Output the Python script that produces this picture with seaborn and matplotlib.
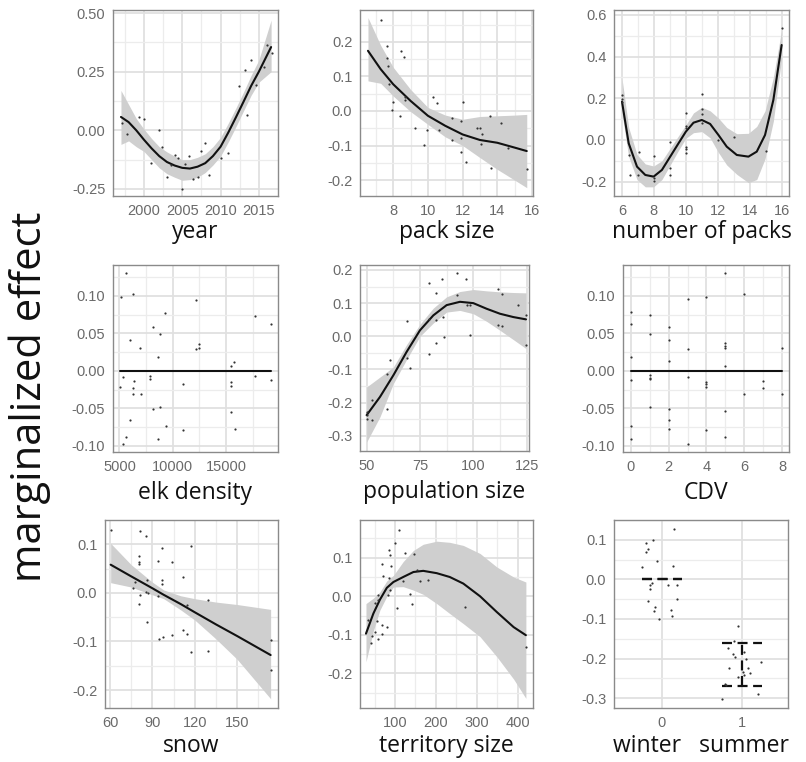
import numpy as np
import pandas as pd
import matplotlib
matplotlib.use('Agg')
import matplotlib.pyplot as plt
import seaborn as sns

# year
year_px = [1997.1, 1997.8, 1999.3, 2000.0, 2000.9, 2002.0, 2002.3, 2003.0, 2003.5, 2004.0, 2004.5,
           2005.0, 2005.3, 2005.9, 2006.4, 2007.0, 2007.4, 2008.0, 2008.5, 2010.1, 2011.0, 2012.4,
           2013.2, 2013.5, 2014.0, 2014.6, 2015.7, 2016.1, 2016.7]
year_py = [0.03, -0.017, 0.057, 0.05, -0.138, 0.003, -0.071, -0.2, -0.149, -0.107, -0.118,
           -0.249, -0.142, -0.111, -0.206, -0.2, -0.088, -0.054, -0.192, -0.116, -0.097, 0.188,
           0.258, 0.067, 0.298, 0.192, 0.27, 0.362, 0.33]
year_fx = [1997.0, 1998, 1999, 2000, 2001, 2002, 2003, 2004, 2005, 2006, 2007, 2008, 2009,
           2010, 2011, 2012, 2013, 2014, 2015, 2016.6]
year_fit = [0.057, 0.035, 0.0, -0.04, -0.077, -0.11, -0.135, -0.15, -0.16, -0.163, -0.155,
            -0.14, -0.11, -0.07, -0.01, 0.055, 0.122, 0.19, 0.25, 0.355]
year_lo = [-0.06, -0.045, -0.07, -0.09, -0.125, -0.16, -0.185, -0.2, -0.213, -0.21, -0.2,
           -0.18, -0.148, -0.11, -0.05, 0.015, 0.083, 0.15, 0.205, 0.25]
year_hi = [0.17, 0.11, 0.05, 0.005, -0.035, -0.07, -0.092, -0.11, -0.125, -0.125, -0.115,
           -0.1, -0.07, -0.03, 0.03, 0.095, 0.163, 0.235, 0.3, 0.47]

# pack size
pack_px = [7.27, 7.65, 7.65, 7.69, 7.75, 8.0, 7.9, 8.38, 8.42, 8.6, 8.65, 8.65, 9.23, 9.8, 9.96,
           10.3, 10.5, 10.63, 11.37, 11.4, 11.88, 11.92, 12.02, 12.17, 11.9, 12.85, 13.0, 13.04,
           13.13, 13.58, 13.65, 14.2, 14.63, 15.7]
pack_py = [0.263, 0.188, 0.152, 0.13, 0.077, 0.026, 0.002, -0.014, 0.174, 0.155, 0.039, 0.032,
           -0.048, -0.099, -0.055, 0.039, 0.022, -0.055, -0.019, -0.084, -0.119, -0.029, 0.027,
           -0.147, -0.077, -0.048, -0.048, -0.095, -0.068, -0.014, -0.166, -0.036, -0.106, -0.167]
pack_fx = [6.54, 7.27, 8, 9, 10, 11, 12, 13, 14, 15, 15.7]
pack_fit = [0.174, 0.121, 0.077, 0.029, -0.014, -0.043, -0.068, -0.084, -0.092, -0.106, -0.116]
pack_lo = [0.087, 0.08, 0.043, -0.002, -0.039, -0.075, -0.1, -0.135, -0.169, -0.2, -0.222]
pack_hi = [0.27, 0.19, 0.126, 0.062, 0.01, -0.012, -0.024, -0.016, -0.014, -0.012, -0.01]

# number of packs
npk_px = [6, 6, 6, 6.42, 6.48, 7.04, 7, 8, 8, 8, 9, 9, 9, 10, 10, 10, 10, 10, 10,
          11, 11, 11, 11, 12, 13, 15, 16]
npk_py = [0.216, 0.195, 0.18, -0.072, -0.168, -0.056, -0.168, -0.075, -0.184, -0.195, -0.008,
          -0.168, -0.136, 0.128, 0.067, 0.059, -0.032, -0.045, -0.064, 0.219, 0.147, 0.125,
          0.08, 0.0, 0.016, -0.051, 0.536]
npk_fx = [6, 6.42, 6.94, 7.46, 7.98, 8.5, 9.02, 9.54, 10, 10.48, 11, 11.52, 12.04, 12.56,
          13.19, 13.92, 14.44, 14.96, 15.48, 16]
npk_fit = [0.184, -0.016, -0.128, -0.168, -0.176, -0.144, -0.08, -0.016, 0.04, 0.083, 0.096,
           0.077, 0.024, -0.032, -0.072, -0.08, -0.056, 0.024, 0.192, 0.456]
npk_lo = [0.128, -0.08, -0.19, -0.225, -0.225, -0.19, -0.12, -0.05, 0.008, 0.035, 0.04, 0.01,
          -0.06, -0.12, -0.165, -0.205, -0.19, -0.09, 0.09, 0.392]
npk_hi = [0.296, 0.06, -0.07, -0.115, -0.125, -0.1, -0.04, 0.02, 0.072, 0.13, 0.157, 0.14,
          0.105, 0.06, 0.03, 0.032, 0.065, 0.14, 0.3, 0.528]

# elk density (flat effect)
elk_px = [5125, 5625, 6312, 6000, 6937, 5375, 5060, 6375, 6312, 6312, 6990, 6000, 5625, 5375,
          7875, 7875, 8187, 8812, 8656, 8187, 8812, 9281, 9343, 8656, 10937, 10937, 12156,
          12187, 12500, 12500, 15468, 15781, 15468, 15468, 15468, 15843, 17718, 17718, 19218, 19218]
elk_py = [0.099, 0.13, 0.103, 0.041, 0.031, -0.008, -0.021, -0.014, -0.023, -0.031, -0.031,
          -0.066, -0.088, -0.098, -0.007, -0.011, 0.059, 0.049, 0.019, -0.051, -0.048, 0.077,
          -0.074, -0.091, -0.017, -0.079, 0.095, 0.029, 0.036, 0.031, 0.007, 0.012, -0.015,
          -0.02, -0.055, -0.078, 0.073, -0.007, 0.062, -0.012]
elk_fx = [5060, 19218]
elk_fit = [0.0, 0.0]

# population size
pop_px = [50, 50, 50, 52.3, 52.3, 59.4, 59.4, 60.9, 68.75, 69, 70.3, 79.4, 79.4, 79.4, 82.5,
          82.5, 82.5, 85.2, 85.9, 86.25, 92.5, 92.5, 96.5, 96.9, 98.4, 98.4, 111.7, 113.3,
          111.7, 113.3, 121, 124.7, 124.7]
pop_py = [-0.228, -0.238, -0.25, -0.191, -0.253, -0.113, -0.218, -0.072, -0.067, 0.046, -0.095,
          0.162, 0.053, -0.054, 0.131, 0.05, -0.02, 0.172, 0.058, -0.002, 0.191, 0.124, 0.172,
          0.094, 0.094, 0.003, 0.142, 0.129, 0.033, 0.03, 0.094, 0.065, -0.027]
pop_fx = [50, 56.25, 62.5, 68.75, 75, 81.25, 87.5, 93.75, 100, 106.25, 112.5, 118.75, 124.7]
pop_fit = [-0.238, -0.183, -0.118, -0.047, 0.018, 0.063, 0.094, 0.104, 0.1, 0.083, 0.068, 0.058, 0.051]
pop_lo = [-0.319, -0.243, -0.143, -0.07, 0.0, 0.04, 0.073, 0.078, 0.068, 0.045, 0.018, -0.01, -0.037]
pop_hi = [-0.153, -0.123, -0.093, -0.025, 0.036, 0.085, 0.119, 0.135, 0.141, 0.137, 0.134, 0.132, 0.131]

# CDV (flat effect)
cdv_px = [0, 0, 0, 0, 0, 0, 1, 1, 1, 1, 1, 1, 2, 2, 2, 2, 2, 2, 3, 3, 3, 3, 4, 4, 4, 4, 4,
          5, 5, 5, 5, 5, 5, 5, 6, 6, 7, 7, 8, 8]
cdv_py = [0.078, 0.062, 0.019, -0.012, -0.074, -0.091, 0.074, 0.049, -0.006, -0.009, -0.011,
          -0.048, 0.059, 0.041, 0.013, -0.051, -0.066, -0.078, 0.096, 0.029, -0.008, -0.097,
          0.099, -0.015, -0.018, -0.021, -0.079, 0.13, 0.037, 0.033, 0.031, 0.006, -0.054,
          -0.088, 0.103, -0.031, -0.013, -0.023, 0.031, -0.031]
cdv_fx = [0, 8]
cdv_fit = [0.0, 0.0]

# snow (linear)
snow_px = [60.7, 81.2, 85.4, 97, 117, 80.7, 80.7, 80.7, 93.7, 104, 97, 97, 111.8, 85.9, 77.7,
           76.5, 85.4, 87.1, 81.2, 94.2, 80.7, 129, 114.7, 85.9, 94.9, 97.2, 104, 111.8, 114.7,
           117, 129, 173.6, 173.6]
snow_py = [0.13, 0.128, 0.117, 0.093, 0.096, 0.075, 0.064, 0.059, 0.066, 0.064, 0.027, 0.019,
           0.032, 0.026, 0.023, 0.01, 0.002, -0.001, -0.005, -0.007, -0.022, -0.014, -0.025,
           -0.06, -0.094, -0.091, -0.087, -0.077, -0.084, -0.121, -0.119, -0.096, -0.159]
snow_fx = [60.5, 75, 90, 98, 110, 120, 135, 150, 173.6]
snow_fit = [0.058, 0.034, 0.0095, -0.004, -0.023, -0.04, -0.065, -0.089, -0.128]
snow_lo = [0.021, 0.012, -0.004, -0.012, -0.035, -0.056, -0.095, -0.137, -0.218]
snow_hi = [0.102, 0.058, 0.022, 0.006, -0.006, -0.012, -0.019, -0.024, -0.034]

# territory size
terr_px = [110.6, 100, 124.5, 86, 87.8, 67.4, 90.2, 71.5, 85.3, 147, 152.9, 161, 180, 120, 87.8,
           83.7, 57.6, 136.7, 140.8, 104, 51, 57.6, 33, 55, 67, 81, 69, 43, 51, 57.6, 40.5, 271, 420]
terr_py = [0.173, 0.138, 0.113, 0.121, 0.106, 0.083, 0.079, 0.052, 0.048, 0.111, 0.067, 0.04,
           0.043, 0.04, 0.016, 0.003, 0.003, 0.007, -0.019, -0.03, -0.017, -0.009, -0.062,
           -0.064, -0.075, -0.08, -0.097, -0.104, -0.092, -0.112, -0.121, -0.028, -0.131]
terr_fx = [29, 47, 63, 80, 96, 120, 145, 169, 202, 234, 267, 308, 349, 390, 420]
terr_fit = [-0.097, -0.045, -0.009, 0.022, 0.037, 0.05, 0.063, 0.066, 0.06, 0.05, 0.033, 0.0,
            -0.041, -0.08, -0.101]
terr_lo = [-0.17, -0.09, -0.036, 0.0, 0.024, 0.025, 0.016, 0.005, -0.019, -0.045, -0.071,
           -0.105, -0.157, -0.215, -0.265]
terr_hi = [-0.019, -0.005, 0.011, 0.04, 0.054, 0.09, 0.119, 0.135, 0.143, 0.14, 0.132, 0.111,
           0.076, 0.05, 0.037]

# season (0 = winter, 1 = summer), jittered points
season_px = [0.154, -0.104, -0.19, -0.167, -0.19, -0.06, -0.24, 0.146, -0.146, -0.125, 0.083,
             0.19, -0.146, 0.19, -0.167, -0.083, -0.096, 0.112, 0.125, -0.03,
             0.958, 0.908, 0.833, 0.888, 0.917, 1.03, 1.054, 1.237, 0.846, 1.075, 1.02, 1.104,
             0.958, 1.03, 0.79, 0.81, 1.208, 0.75]
season_py = [0.126, 0.099, 0.093, 0.076, 0.07, 0.047, 0.03, 0.034, -0.014, -0.01, -0.014,
             -0.014, -0.024, -0.05, -0.054, -0.069, -0.079, -0.077, -0.093, -0.099,
             -0.117, -0.156, -0.174, -0.189, -0.197, -0.183, -0.2, -0.208, -0.225, -0.225,
             -0.233, -0.236, -0.246, -0.242, -0.264, -0.267, -0.29, -0.303]
season_x = [0, 1]
season_lo = [0.0, -0.27]
season_hi = [0.0, -0.16]

sns.set_style('white')
plt.rcParams['axes.unicode_minus'] = False
plt.rcParams['font.family'] = ['Liberation Sans', 'DejaVu Sans']

W, H = 806, 762
fig = plt.figure(figsize=(W / 100, H / 100), dpi=100)


def make_ax(l, t, r, b):
    return fig.add_axes([l / W, 1 - b / H, (r - l) / W, (b - t) / H])


def style(ax, xlim, ylim, xt, yt, xfmt, yfmt, label, minor_x=True, lpad=2.5):
    ax.set_xlim(*xlim)
    ax.set_ylim(*ylim)
    ax.set_xticks(xt)
    ax.set_yticks(yt)
    ax.set_xticklabels([xfmt.format(v) for v in xt])
    ax.set_yticklabels([yfmt.format(v) for v in yt])
    if minor_x:
        dx = xt[1] - xt[0]
        mx = [v for v in np.arange(xt[0] - dx / 2, xt[-1] + dx, dx) if xlim[0] < v < xlim[1]]
        ax.set_xticks(mx, minor=True)
    dy = yt[1] - yt[0]
    my = [v for v in np.arange(yt[0] - dy / 2, yt[-1] + dy, dy) if ylim[0] < v < ylim[1]]
    ax.set_yticks(my, minor=True)
    ax.grid(which='major', color='#e0e0e0', lw=1.3)
    ax.grid(which='minor', color='#ececec', lw=0.9)
    ax.set_axisbelow(True)
    ax.tick_params(which='minor', length=0)
    ax.tick_params(which='major', length=3, width=0.9, color='#555555',
                   labelcolor='#6a6a6a', labelsize=10.5, pad=2.5)
    for s in ax.spines.values():
        s.set_color('#8a8a8a')
        s.set_linewidth(1.0)
    ax.set_xlabel(label, fontsize=16.5, family='Open Sans', color='#111111', labelpad=lpad)
    ax.set_ylabel('')


def smooth(ax, px, py, fx, fit, lo=None, hi=None):
    if lo is not None:
        ax.fill_between(fx, lo, hi, color='#cfcfcf', lw=0, zorder=2)
    sns.lineplot(x=fx, y=fit, ax=ax, color='#111111', lw=1.5, zorder=3)
    sns.scatterplot(x=px, y=py, ax=ax, color='#333333', s=2.5, linewidth=0, zorder=4)


ax = make_ax(113, 10, 278, 196)
smooth(ax, year_px, year_py, year_fx, year_fit, year_lo, year_hi)
style(ax, (1995.96, 2017.5), (-0.28, 0.513), [2000, 2005, 2010, 2015], [-0.25, 0.0, 0.25, 0.5],
      '{:d}', '{:.2f}', 'year', lpad=1.5)

ax = make_ax(360, 10, 533, 196)
smooth(ax, pack_px, pack_py, pack_fx, pack_fit, pack_lo, pack_hi)
style(ax, (6.08, 16.06), (-0.246, 0.292), [8, 10, 12, 14, 16], [-0.2, -0.1, 0.0, 0.1, 0.2],
      '{:d}', '{:.1f}', 'pack size', lpad=1.5)

ax = make_ax(614, 10, 789, 196)
smooth(ax, npk_px, npk_py, npk_fx, npk_fit, npk_lo, npk_hi)
style(ax, (5.5, 16.46), (-0.269, 0.624), [6, 8, 10, 12, 14, 16], [-0.2, 0.0, 0.2, 0.4, 0.6],
      '{:d}', '{:.1f}', 'number of packs', lpad=1.5)

ax = make_ax(113, 265, 278, 452)
smooth(ax, elk_px, elk_py, elk_fx, elk_fit)
style(ax, (4400, 19880), (-0.108, 0.141), [5000, 10000, 15000], [-0.1, -0.05, 0.0, 0.05, 0.1],
      '{:d}', '{:.2f}', 'elk density', lpad=5)

ax = make_ax(360, 265, 529, 451)
smooth(ax, pop_px, pop_py, pop_fx, pop_fit, pop_lo, pop_hi)
style(ax, (46.9, 126.1), (-0.346, 0.215), [50, 75, 100, 125], [-0.3, -0.2, -0.1, 0.0, 0.1, 0.2],
      '{:d}', '{:.1f}', 'population size', lpad=5)

ax = make_ax(623, 265, 789, 452)
smooth(ax, cdv_px, cdv_py, cdv_fx, cdv_fit)
style(ax, (-0.4, 8.35), (-0.108, 0.141), [0, 2, 4, 6, 8], [-0.1, -0.05, 0.0, 0.05, 0.1],
      '{:d}', '{:.2f}', 'CDV', lpad=5)

ax = make_ax(105, 520, 278, 708)
smooth(ax, snow_px, snow_py, snow_fx, snow_fit, snow_lo, snow_hi)
style(ax, (56.5, 178.8), (-0.237, 0.15), [60, 90, 120, 150], [-0.2, -0.1, 0.0, 0.1],
      '{:d}', '{:.1f}', 'snow', lpad=3.5)

ax = make_ax(360, 520, 533, 708)
smooth(ax, terr_px, terr_py, terr_fx, terr_fit, terr_lo, terr_hi)
style(ax, (14.4, 437.4), (-0.29, 0.198), [100, 200, 300, 400], [-0.2, -0.1, 0.0, 0.1],
      '{:d}', '{:.1f}', 'territory size', lpad=3.5)

ax = make_ax(614, 520, 788, 708)
sns.scatterplot(x=season_px, y=season_py, ax=ax, color='#333333', s=2.5, linewidth=0, zorder=4)
dash = (0, (4.5, 2.5))
ax.hlines(season_lo, [v - 0.25 for v in season_x], [v + 0.25 for v in season_x],
          colors='#111111', lw=1.6, linestyles=[dash], zorder=3)
ax.hlines(season_hi, [v - 0.25 for v in season_x], [v + 0.25 for v in season_x],
          colors='#111111', lw=1.6, linestyles=[dash], zorder=3)
ax.vlines(season_x, season_lo, season_hi, colors='#111111', lw=1.6, linestyles=[dash], zorder=3)
style(ax, (-0.596, 1.579), (-0.325, 0.15), [0, 1], [-0.3, -0.2, -0.1, 0.0, 0.1],
      '{:d}', '{:.1f}', 'winter   summer', minor_x=False, lpad=3.5)

fig.text(30 / W, 1 - 397 / H, 'marginalized effect', rotation=90, fontsize=30,
         family='Open Sans', color='#111111', ha='center', va='center')

fig.savefig('out.png', dpi=100)
